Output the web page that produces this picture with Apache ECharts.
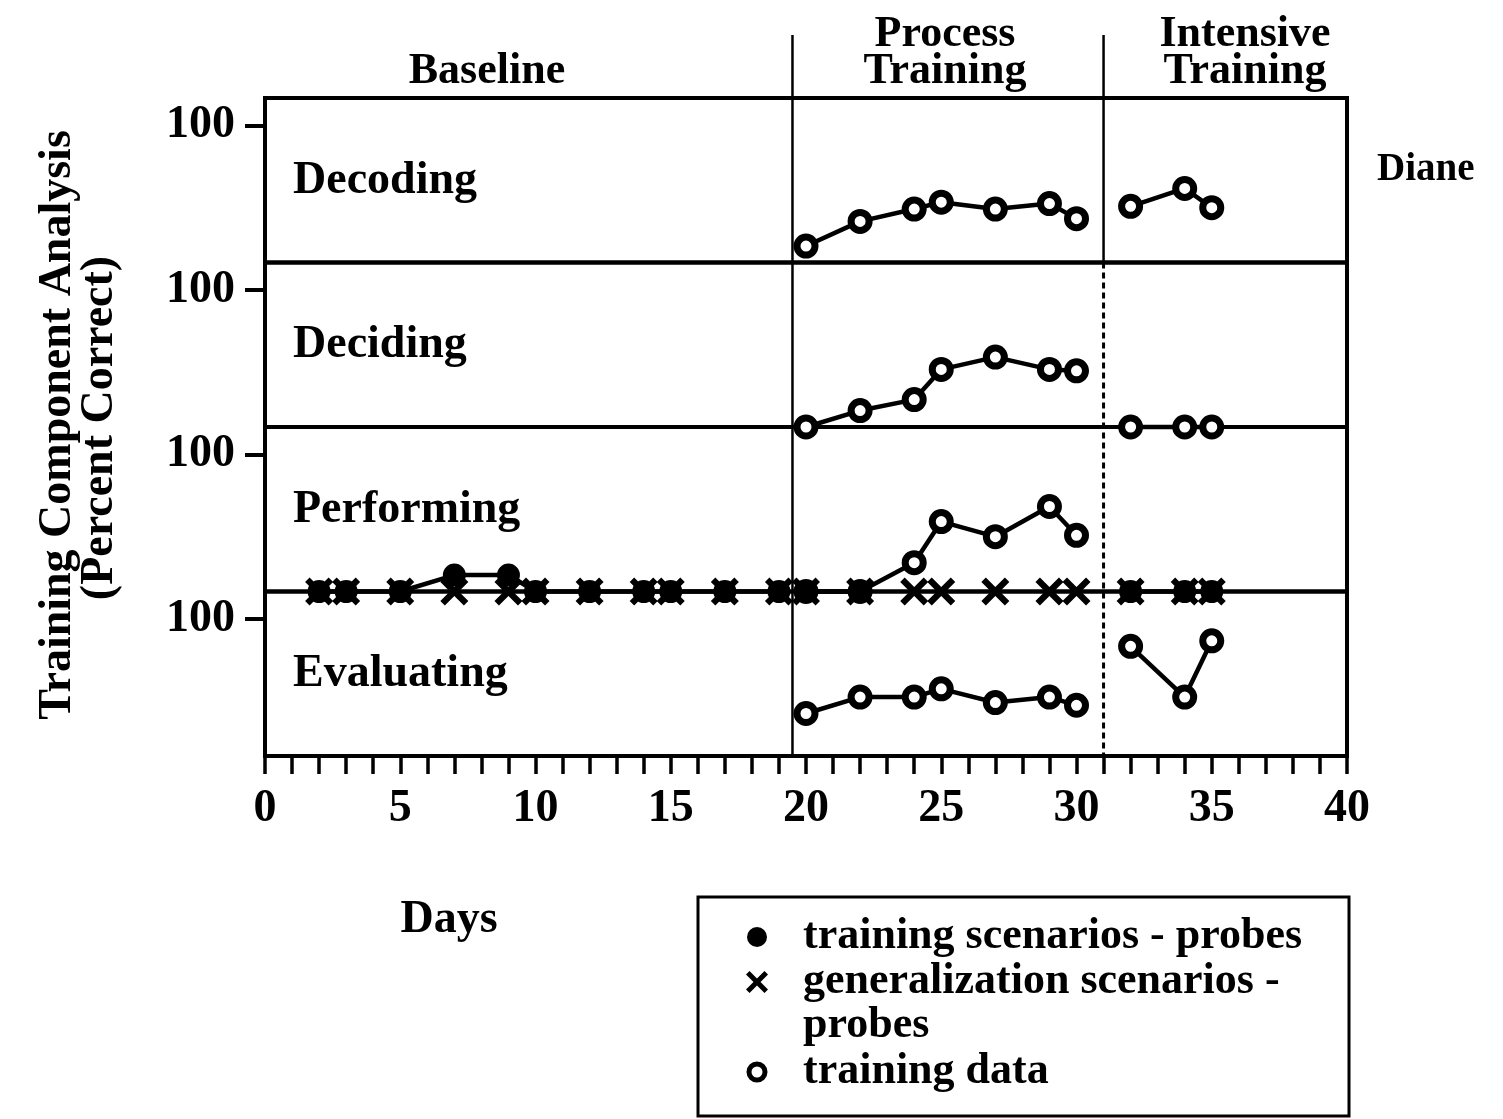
<!DOCTYPE html>
<html><head><meta charset="utf-8">
<script src="https://cdn.jsdelivr.net/npm/echarts@6/dist/echarts.min.js"></script>
<style>html,body{margin:0;padding:0;background:#fff;}#chart{width:1503px;height:1119px;}</style>
</head><body><div id="chart"></div>
<script>
// ---------- data ----------
const panelNames = ['Decoding', 'Deciding', 'Performing', 'Evaluating'];
const yTickValues = [100];
const yTickLabels = ['100'];
const xTickValues = [0, 5, 10, 15, 20, 25, 30, 35, 40];
const xTickLabels = ['0', '5', '10', '15', '20', '25', '30', '35', '40'];
const phaseBoundaries = [19.5, 31];
const phaseLabels = ['Baseline', 'Process\nTraining', 'Intensive\nTraining'];

// training data (open circles)
const processDays = [20, 22, 24, 25, 27, 29, 30];
const intensiveDays = [32, 34, 35];
const decodingProcess = [12, 30, 39, 44, 39, 43, 32];
const decodingIntensive = [41, 54, 40];
const decidingProcess = [0, 12, 20, 42, 51, 42, 41];
const decidingIntensive = [0, 0, 0];
const performingProcess = [0, 0, 21, 51, 40, 62, 41];
const evaluatingProcess = [31, 43, 43, 49, 39, 43, 37];
const evaluatingIntensive = [80, 43, 84];

// probes (Performing panel)
const baselineProbeDays = [2, 3, 5, 7, 9, 10, 12, 14, 15, 17, 19];
const trainingProbeBaseline = [0, 0, 0, 12, 12, 0, 0, 0, 0, 0, 0];
const generalProbeBaseline = [0, 0, 0, 0, 0, 0, 0, 0, 0, 0, 0];
const processTrainingProbeDays = [20, 22];
const trainingProbeProcess = [0, 0];
const processGeneralProbeDays = [20, 22, 24, 25, 27, 29, 30];
const generalProbeProcess = [0, 0, 0, 0, 0, 0, 0];
const intensiveProbeDays = [32, 34, 35];
const trainingProbeIntensive = [0, 0, 0];
const generalProbeIntensive = [0, 0, 0];

const legendNames = ['training scenarios - probes', 'generalization scenarios -\nprobes', 'training data'];

// ---------- chart ----------
const FONT = '"Liberation Serif", "DejaVu Serif", serif';
const GRID_LEFT = 265, GRID_W = 1082, GRID_TOP = 98, PANEL_H = 164.5;
const X_PTS = [[1.6,0],[5,3.4],[8.4,0],[10,1.6],[6.6,5],[10,8.4],[8.4,10],[5,6.6],[1.6,10],[0,8.4],[3.4,5],[0,1.6]];
const X_PATH = 'path://M' + X_PTS.map(p => p.join(',')).join(' L') + ' Z';

const pair = (days, vals) => days.map((d, i) => [d, vals[i]]);

const chart = echarts.init(document.getElementById('chart'));

const grids = panelNames.map((_, i) => ({
  left: GRID_LEFT, width: GRID_W, top: GRID_TOP + i * PANEL_H, height: PANEL_H,
  show: true, borderColor: '#000', borderWidth: 4, backgroundColor: 'transparent'
}));

const xAxes = panelNames.map((_, i) => ({
  gridIndex: i, type: 'value', min: 0, max: 40, interval: 5, show: i === 3,
  axisLine: {show: true, onZero: false, lineStyle: {color: '#000', width: 4}},
  axisTick: {show: true, length: 18, lineStyle: {color: '#000', width: 3.5}},
  minorTick: {show: true, splitNumber: 5, length: 18, lineStyle: {color: '#000', width: 3.5}},
  axisLabel: {margin: 30, color: '#000', fontSize: 46, fontFamily: FONT, fontWeight: 'bold',
    formatter: v => { const k = xTickValues.indexOf(v); return k >= 0 ? xTickLabels[k] : ''; }},
  splitLine: {show: false}, minorSplitLine: {show: false}
}));

const yAxes = panelNames.map((_, i) => ({
  gridIndex: i, type: 'value', min: 0, max: 120,
  axisLine: {show: true, onZero: false, lineStyle: {color: '#000', width: 4}},
  axisTick: {show: true, customValues: yTickValues, length: 20, lineStyle: {color: '#000', width: 4}},
  axisLabel: {customValues: yTickValues, margin: 30, color: '#000', fontSize: 46, fontFamily: FONT, fontWeight: 'bold',
    formatter: v => { const k = yTickValues.indexOf(v); return k >= 0 ? yTickLabels[k] : ''; }},
  splitLine: {show: false}
}));

function openSeries(panel, days, vals) {
  return {
    name: legendNames[2], type: 'line', xAxisIndex: panel, yAxisIndex: panel, clip: false,
    data: pair(days, vals), symbol: 'circle', symbolSize: 18,
    itemStyle: {color: '#fff', borderColor: '#000', borderWidth: 7, opacity: 1},
    lineStyle: {color: '#000', width: 4.5}, z: 3, animation: false
  };
}
function filledSeries(panel, days, vals) {
  return {
    name: legendNames[0], type: 'line', xAxisIndex: panel, yAxisIndex: panel, clip: false,
    data: pair(days, vals), symbol: 'circle', symbolSize: 23,
    itemStyle: {color: '#000', opacity: 1}, lineStyle: {color: '#000', width: 4.5}, z: 4, animation: false
  };
}
function crossSeries(panel, days, vals) {
  return {
    name: legendNames[1], type: 'scatter', xAxisIndex: panel, yAxisIndex: panel, clip: false,
    data: pair(days, vals), symbol: X_PATH, symbolSize: 28,
    itemStyle: {color: '#000', opacity: 1}, z: 5, animation: false
  };
}

const series = [
  openSeries(0, processDays, decodingProcess),
  openSeries(0, intensiveDays, decodingIntensive),
  openSeries(1, processDays, decidingProcess),
  openSeries(1, intensiveDays, decidingIntensive),
  openSeries(2, processDays, performingProcess),
  openSeries(3, processDays, evaluatingProcess),
  openSeries(3, intensiveDays, evaluatingIntensive),
  filledSeries(2, baselineProbeDays, trainingProbeBaseline),
  filledSeries(2, processTrainingProbeDays, trainingProbeProcess),
  filledSeries(2, intensiveProbeDays, trainingProbeIntensive),
  crossSeries(2, baselineProbeDays, generalProbeBaseline),
  crossSeries(2, processGeneralProbeDays, generalProbeProcess),
  crossSeries(2, intensiveProbeDays, generalProbeIntensive)
];

chart.setOption({
  animation: false,
  backgroundColor: '#fff',
  grid: grids, xAxis: xAxes, yAxis: yAxes, series: series
});

// ---------- decorations derived from the axes ----------
const xA = chart.convertToPixel({xAxisIndex: 3}, phaseBoundaries[0]);
const xB = chart.convertToPixel({xAxisIndex: 3}, phaseBoundaries[1]);
const yPanel1Bottom = chart.convertToPixel({yAxisIndex: 0}, 0);
const yBottom = chart.convertToPixel({yAxisIndex: 3}, 0);
const yLineTop = 35;

const g = [];
g.push({type: 'line', shape: {x1: xA, y1: yLineTop, x2: xA, y2: yBottom}, style: {stroke: '#000', lineWidth: 2.5}, z: 10});
g.push({type: 'line', shape: {x1: xB, y1: yLineTop, x2: xB, y2: yPanel1Bottom}, style: {stroke: '#000', lineWidth: 2.5}, z: 10});
g.push({type: 'line', shape: {x1: xB, y1: yPanel1Bottom, x2: xB, y2: yBottom}, style: {stroke: '#000', lineWidth: 3, lineDash: [6, 4]}, z: 10});

// phase labels
const phaseLabelX = [487, 945, 1245];
phaseLabels.forEach((t, i) => {
  g.push({type: 'text', x: phaseLabelX[i], y: 90, z: 10,
    style: {text: t, font: 'bold 44px ' + FONT, fill: '#000', align: 'center', verticalAlign: 'bottom', lineHeight: 37}});
});

// panel labels
panelNames.forEach((t, i) => {
  g.push({type: 'text', x: 293, y: GRID_TOP + i * PANEL_H + 83, z: 10,
    style: {text: t, font: 'bold 46px ' + FONT, fill: '#000', align: 'left', verticalAlign: 'middle'}});
});

// subject name
g.push({type: 'text', x: 1377, y: 170, z: 10, style: {text: 'Diane', font: 'bold 39px ' + FONT, fill: '#000', align: 'left', verticalAlign: 'middle'}});
// x axis title
g.push({type: 'text', x: 449, y: 920, z: 10, style: {text: 'Days', font: 'bold 46px ' + FONT, fill: '#000', align: 'center', verticalAlign: 'middle'}});
// y axis title
g.push({type: 'text', x: 58, y: 425, rotation: Math.PI / 2, z: 10, style: {text: 'Training Component Analysis', font: 'bold 46px ' + FONT, fill: '#000', align: 'center', verticalAlign: 'middle'}});
g.push({type: 'text', x: 100, y: 428, rotation: Math.PI / 2, z: 10, style: {text: '(Percent Correct)', font: 'bold 46px ' + FONT, fill: '#000', align: 'center', verticalAlign: 'middle'}});

// legend box
g.push({type: 'rect', shape: {x: 698, y: 897, width: 651, height: 219}, style: {fill: 'none', stroke: '#000', lineWidth: 3}, z: 10});
g.push({type: 'circle', shape: {cx: 757, cy: 937, r: 10}, style: {fill: '#000'}, z: 10});
g.push({type: 'polygon', shape: {points: X_PTS.map(p => [746 + p[0] * 2.2, 971 + p[1] * 2.2])}, style: {fill: '#000'}, z: 10});
g.push({type: 'circle', shape: {cx: 757, cy: 1072, r: 8}, style: {fill: '#fff', stroke: '#000', lineWidth: 5}, z: 10});
const legendLineY = [937, 982, 1072];
legendNames.forEach((t, i) => {
  g.push({type: 'text', x: 803, y: legendLineY[i] - 22, z: 10,
    style: {text: t, font: 'bold 44px ' + FONT, fill: '#000', align: 'left', verticalAlign: 'top', lineHeight: 44}});
});

chart.setOption({graphic: g});
</script>
</body></html>
